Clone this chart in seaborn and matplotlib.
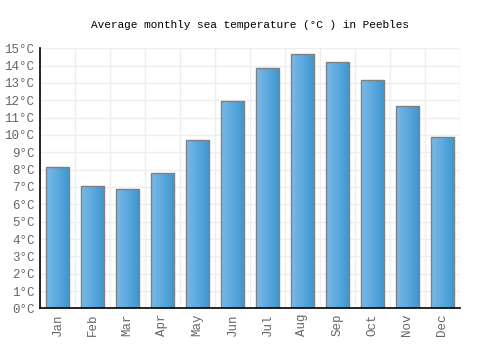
import matplotlib
matplotlib.use("Agg")
import matplotlib.pyplot as plt
import numpy as np
import pandas as pd
import seaborn as sns
from matplotlib.colors import LinearSegmentedColormap

months = ["Jan", "Feb", "Mar", "Apr", "May", "Jun",
          "Jul", "Aug", "Sep", "Oct", "Nov", "Dec"]
sea_temp = [8.15, 7.05, 6.9, 7.8, 9.7, 11.95, 13.85, 14.65, 14.2, 13.15, 11.65, 9.9]
y_ticks = list(range(0, 16))

sns.set_style("white")
plt.rcParams["font.family"] = ["Liberation Mono", "DejaVu Sans Mono"]

df = pd.DataFrame({"month": months, "temp": sea_temp})

fig = plt.figure(figsize=(5, 3.5), dpi=100)
ax = fig.add_axes([0.08, 0.119, 0.84, 0.743])

sns.barplot(data=df, x="month", y="temp", ax=ax, width=0.67,
            color="#5aa8e0", edgecolor="#808080", linewidth=1, zorder=3)

# horizontal gradient inside each bar
grad = LinearSegmentedColormap.from_list("bar", ["#7ab9ea", "#3c97cf"])
gimg = np.linspace(0, 1, 64).reshape(1, -1)
for p in ax.patches:
    x0, y0 = p.get_x(), p.get_y()
    w, h = p.get_width(), p.get_height()
    im = ax.imshow(gimg, cmap=grad, aspect="auto",
                   extent=[x0, x0 + w, y0, y0 + h], zorder=3.5)
    im.set_clip_path(p)
    p.set_zorder(4)
    p.set_facecolor("none")

ax.set_xlim(-0.5, 11.5)
ax.set_ylim(0, 15)
ax.set_yticks(y_ticks)
ax.set_yticklabels([f"{t}°C" for t in y_ticks])
ax.set_xticks(np.arange(-0.5, 12, 1), minor=True)
ax.grid(True, axis="y", color="#eeeeee", linewidth=1, zorder=0)
ax.grid(True, axis="x", which="minor", color="#eeeeee", linewidth=1, zorder=0)
ax.grid(False, axis="x", which="major")
ax.tick_params(axis="x", which="minor", length=0)
ax.tick_params(axis="both", which="major", length=0, labelsize=9,
               labelcolor="#666666", pad=4)
plt.setp(ax.get_xticklabels(), rotation=90)

for side in ["top", "right"]:
    ax.spines[side].set_visible(False)
for side in ["left", "bottom"]:
    ax.spines[side].set_color("black")
    ax.spines[side].set_linewidth(1.2)
    ax.spines[side].set_zorder(5)

ax.set_xlabel("")
ax.set_ylabel("")
fig.text(0.5, 0.93, "Average monthly sea temperature (°C ) in Peebles",
         ha="center", va="center", fontsize=8, color="black")

fig.savefig("out.png", dpi=100)
